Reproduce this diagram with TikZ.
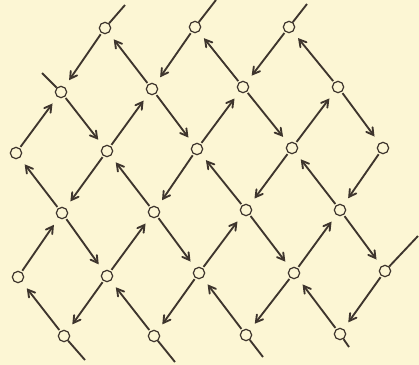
\documentclass[tikz,border=0pt]{standalone}
\usepackage{xcolor}
\usepackage{tikz}
\usetikzlibrary{arrows}

\definecolor{paper}{RGB}{252,246,212}
\definecolor{ink}{RGB}{62,53,45}

\begin{document}
\begin{tikzpicture}[
    x=0.75pt, y=-0.75pt,
    knot/.style={circle, draw=ink, line width=0.9pt, fill=paper, minimum size=8.5pt, inner sep=0pt},
    link/.style={->, >=angle 60, draw=ink, line width=1.4pt, shorten >=6pt, shorten <=1pt},
    stub/.style={draw=ink, line width=1.4pt},
]
    % Paper
    \fill[paper] (0,0) rectangle (419,365);
    \useasboundingbox (0,0) rectangle (419,365);

    % Row 0
    \node[knot] (n0_2) at (105,28) {};
    \node[knot] (n0_4) at (195,27) {};
    \node[knot] (n0_6) at (289,27) {};
    % Row 1
    \node[knot] (n1_1) at (61,92) {};
    \node[knot] (n1_3) at (152,89) {};
    \node[knot] (n1_5) at (243,87) {};
    \node[knot] (n1_7) at (338,87) {};
    % Row 2
    \node[knot] (n2_0) at (16,153) {};
    \node[knot] (n2_2) at (107,151) {};
    \node[knot] (n2_4) at (197,149) {};
    \node[knot] (n2_6) at (292,148) {};
    \node[knot] (n2_8) at (383,148) {};
    % Row 3
    \node[knot] (n3_1) at (62,213) {};
    \node[knot] (n3_3) at (154,212) {};
    \node[knot] (n3_5) at (246,210) {};
    \node[knot] (n3_7) at (340,210) {};
    % Row 4
    \node[knot] (n4_0) at (18,277) {};
    \node[knot] (n4_2) at (107,276) {};
    \node[knot] (n4_4) at (199,273) {};
    \node[knot] (n4_6) at (294,273) {};
    \node[knot] (n4_8) at (385,271) {};
    % Row 5
    \node[knot] (n5_1) at (64,336) {};
    \node[knot] (n5_3) at (154,336) {};
    \node[knot] (n5_5) at (246,335) {};
    \node[knot] (n5_7) at (340,334) {};

    % Loose ends
    \coordinate (e0_2) at (125,5);
    \coordinate (e0_4) at (216,0);
    \coordinate (e0_6) at (307,4);
    \coordinate (e1_1) at (42,73);
    \coordinate (e4_8) at (418,236);
    \coordinate (e5_1) at (85,360);
    \coordinate (e5_3) at (175,362);
    \coordinate (e5_5) at (263,357);
    \coordinate (e5_7) at (349,347);

    \draw[stub] (n0_2) -- (e0_2);
    \draw[stub] (n0_4) -- (e0_4);
    \draw[stub] (n0_6) -- (e0_6);
    \draw[stub] (n1_1) -- (e1_1);
    \draw[stub] (n4_8) -- (e4_8);
    \draw[stub] (n5_1) -- (e5_1);
    \draw[stub] (n5_3) -- (e5_3);
    \draw[stub] (n5_5) -- (e5_5);
    \draw[stub] (n5_7) -- (e5_7);

    % Rows 0-1
    \draw[link] (n0_2) -- (n1_1);
    \draw[link] (n1_3) -- (n0_2);
    \draw[link] (n0_4) -- (n1_3);
    \draw[link] (n1_5) -- (n0_4);
    \draw[link] (n0_6) -- (n1_5);
    \draw[link] (n1_7) -- (n0_6);

    % Rows 1-2
    \draw[link] (n2_0) -- (n1_1);
    \draw[link] (n1_1) -- (n2_2);
    \draw[link] (n2_2) -- (n1_3);
    \draw[link] (n1_3) -- (n2_4);
    \draw[link] (n2_4) -- (n1_5);
    \draw[link] (n1_5) -- (n2_6);
    \draw[link] (n2_6) -- (n1_7);
    \draw[link] (n1_7) -- (n2_8);

    % Rows 2-3
    \draw[link] (n3_1) -- (n2_0);
    \draw[link] (n2_2) -- (n3_1);
    \draw[link] (n3_3) -- (n2_2);
    \draw[link] (n2_4) -- (n3_3);
    \draw[link] (n3_5) -- (n2_4);
    \draw[link] (n2_6) -- (n3_5);
    \draw[link] (n3_7) -- (n2_6);
    \draw[link] (n2_8) -- (n3_7);

    % Rows 3-4
    \draw[link] (n4_0) -- (n3_1);
    \draw[link] (n3_1) -- (n4_2);
    \draw[link] (n4_2) -- (n3_3);
    \draw[link] (n3_3) -- (n4_4);
    \draw[link] (n4_4) -- (n3_5);
    \draw[link] (n3_5) -- (n4_6);
    \draw[link] (n4_6) -- (n3_7);
    \draw[link] (n3_7) -- (n4_8);

    % Rows 4-5
    \draw[link] (n5_1) -- (n4_0);
    \draw[link] (n4_2) -- (n5_1);
    \draw[link] (n5_3) -- (n4_2);
    \draw[link] (n4_4) -- (n5_3);
    \draw[link] (n5_5) -- (n4_4);
    \draw[link] (n4_6) -- (n5_5);
    \draw[link] (n5_7) -- (n4_6);
    \draw[link] (n4_8) -- (n5_7);
\end{tikzpicture}
\end{document}
